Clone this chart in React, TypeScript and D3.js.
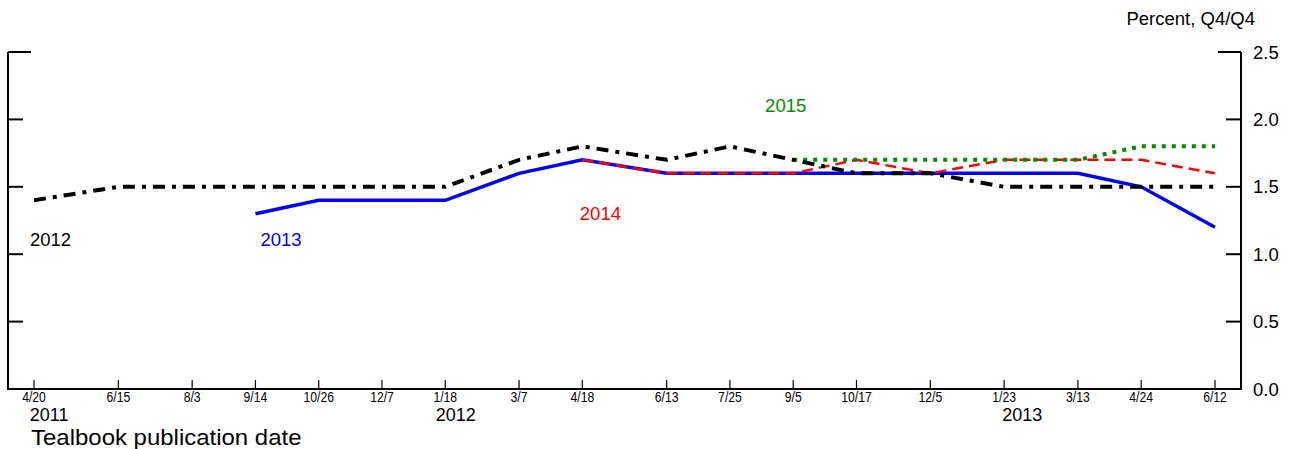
import * as d3 from 'd3'

const W = 1292
const H = 449

// Tealbook publication dates
const pubDates = [
  '2011-04-20', '2011-06-15', '2011-08-03', '2011-09-14', '2011-10-26', '2011-12-07',
  '2012-01-18', '2012-03-07', '2012-04-18', '2012-06-13', '2012-07-25', '2012-09-05',
  '2012-10-17', '2012-12-05', '2013-01-23', '2013-03-13', '2013-04-24', '2013-06-12',
]

// projections, percent Q4/Q4 (null = not yet projected)
const proj2012 = [1.4, 1.5, 1.5, 1.5, 1.5, 1.5, 1.5, 1.7, 1.8, 1.7, 1.8, 1.7, 1.6, 1.6, 1.5, 1.5, 1.5, 1.5]
const proj2013 = [null, null, null, 1.3, 1.4, 1.4, 1.4, 1.6, 1.7, 1.6, 1.6, 1.6, 1.6, 1.6, 1.6, 1.6, 1.5, 1.2]
const proj2014 = [null, null, null, null, null, null, null, null, 1.7, 1.6, 1.6, 1.6, 1.7, 1.6, 1.7, 1.7, 1.7, 1.6]
const proj2015 = [null, null, null, null, null, null, null, null, null, null, null, 1.7, 1.7, 1.7, 1.7, 1.7, 1.8, 1.8]

const yTicks = [0, 0.5, 1.0, 1.5, 2.0, 2.5]

const yearLabels = [
  { label: '2011', date: '2011-04-30' },
  { label: '2012', date: '2012-01-25' },
  { label: '2013', date: '2013-02-04' },
]

// series name labels: anchor date and value
const seriesLabels = [
  { label: '2012', date: '2011-05-01', value: 1.063, color: '#000000' },
  { label: '2013', date: '2011-10-01', value: 1.063, color: '#0000ff' },
  { label: '2014', date: '2012-04-30', value: 1.253, color: '#ff0000' },
  { label: '2015', date: '2012-08-31', value: 2.055, color: '#008c00' },
]

const parse = d3.timeParse('%Y-%m-%d')
const fmt = d3.timeFormat('%-m/%-d')
const font = '"Liberation Sans", Arial, sans-serif'

const App = () => {
  const dates = pubDates.map(d => parse(d))
  const x = d3.scaleTime()
    .domain([dates[0], dates[dates.length - 1]])
    .range([34, 1215])
  const y = d3.scaleLinear().domain([0, 2.5]).range([389, 52])

  const left = 8
  const right = 1241

  const line = d3.line<number | null>()
    .defined(v => v != null)
    .x((_, i) => x(dates[i]))
    .y(v => y(v as number))

  const series = [
    { values: proj2013, color: '#0000ff', width: 3.5, dash: null },
    { values: proj2014, color: '#ff0000', width: 2.5, dash: '11,6' },
    { values: proj2015, color: '#008c00', width: 4, dash: '4,6' },
    { values: proj2012, color: '#000000', width: 4, dash: '12,7,4,7' },
  ]

  return (
    <svg width={W} height={H} style={{ position: 'absolute', left: 0, top: 0, background: '#fff' }}
      fontFamily={font}>
      {/* frame */}
      <path d={`M${left},${y(2.5)}V${y(0)}H${right}V${y(2.5)}`} fill="none" stroke="#000" strokeWidth={2} />

      {/* y ticks both sides */}
      {yTicks.filter(t => t > 0).map(t => {
        const len = t === 2.5 ? 23 : 15
        return (
          <g key={t}>
            <line x1={left} x2={left + len} y1={y(t)} y2={y(t)} stroke="#000" strokeWidth={2} />
            <line x1={right} x2={right - len} y1={y(t)} y2={y(t)} stroke="#000" strokeWidth={2} />
          </g>
        )
      })}
      {yTicks.map(t => (
        <text key={'l' + t} x={1253} y={y(t) + 6.5} fontSize={18.5}>{t.toFixed(1)}</text>
      ))}
      <text x={1255} y={25} fontSize={18.5} textAnchor="end">Percent, Q4/Q4</text>

      {/* x ticks */}
      {dates.map((d, i) => (
        <g key={i}>
          <line x1={x(d)} x2={x(d)} y1={y(0)} y2={y(0) - 9} stroke="#000" strokeWidth={1.2} />
          <text transform={`translate(${x(d)},${402}) scale(0.87,1)`} textAnchor="middle" fontSize={14}>
            {fmt(d)}
          </text>
        </g>
      ))}
      {yearLabels.map(l => (
        <text key={l.label} transform={`translate(${x(parse(l.date))},421) scale(1.03,1)`}
          textAnchor="middle" fontSize={17.5}>{l.label}</text>
      ))}
      <text transform="translate(31,445) scale(1.09,1)" fontSize={22}>Tealbook publication date</text>

      {/* lines */}
      {series.map((s, i) => (
        <path key={i} d={line(s.values) || ''} fill="none" stroke={s.color} strokeWidth={s.width}
          strokeDasharray={s.dash || undefined} strokeLinejoin="miter" />
      ))}

      {seriesLabels.map(l => (
        <text key={l.label} x={x(parse(l.date))} y={y(l.value)} textAnchor="middle" fontSize={18.5}
          fill={l.color}>{l.label}</text>
      ))}
    </svg>
  )
}

export default App
